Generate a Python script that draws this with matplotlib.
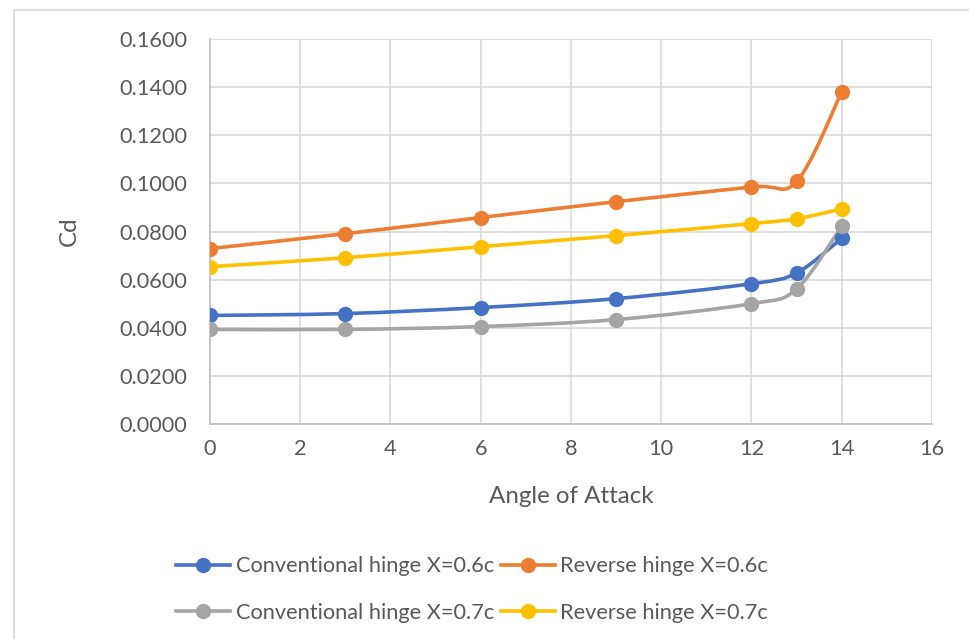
import numpy as np
import matplotlib
matplotlib.use('Agg')
from matplotlib import pyplot as plt
from matplotlib.path import Path
from matplotlib.patches import PathPatch, Rectangle
from matplotlib.lines import Line2D

plt.rcParams['font.family'] = ['Lato', 'DejaVu Sans']

angle = [0, 3, 6, 9, 12, 13, 14]
conv_06 = [0.0451, 0.0459, 0.0484, 0.0521, 0.0583, 0.0628, 0.0772]
rev_06 = [0.0729, 0.0791, 0.0858, 0.0924, 0.0985, 0.1008, 0.1380]
conv_07 = [0.0393, 0.0393, 0.0405, 0.0434, 0.0500, 0.0562, 0.0822]
rev_07 = [0.0654, 0.0691, 0.0737, 0.0783, 0.0833, 0.0853, 0.0894]

series = [
    ('Conventional hinge X=0.6c', conv_06, '#4472c4'),
    ('Reverse hinge X=0.6c', rev_06, '#ed7d31'),
    ('Conventional hinge X=0.7c', conv_07, '#a5a5a5'),
    ('Reverse hinge X=0.7c', rev_07, '#ffc000'),
]

text_col = '#595959'
grid_col = '#d9d9d9'


def smooth_path(x, y):
    # cubic bezier through the points, catmull-rom style control points
    p = np.column_stack([x, y]).astype(float)
    n = len(p)
    verts = [p[0]]
    codes = [Path.MOVETO]
    for i in range(n - 1):
        p0 = p[i - 1] if i > 0 else p[i]
        p3 = p[i + 2] if i + 2 < n else p[i + 1]
        c1 = p[i] + (p[i + 1] - p0) / 6.0
        c2 = p[i + 1] - (p3 - p[i]) / 6.0
        verts += [c1, c2, p[i + 1]]
        codes += [Path.CURVE4] * 3
    return Path(verts, codes)


fig = plt.figure(figsize=(9.7, 6.39), dpi=100)
fig.patches.append(Rectangle((14 / 970, -0.1), 1.2, 1 - 10 / 639 + 0.1,
                             transform=fig.transFigure, fill=False,
                             edgecolor=grid_col, lw=1.2))

ax = fig.add_axes([210 / 970, 1 - 424 / 639, 722 / 970, 385 / 639])

handles = []
for label, vals, col in series:
    ax.add_patch(PathPatch(smooth_path(angle, vals), fill=False,
                           edgecolor=col, lw=2.6, capstyle='round', zorder=3))
    ax.plot(angle, vals, ls='none', marker='o', ms=10, color=col, zorder=4)
    handles.append(Line2D([], [], color=col, lw=2.6, marker='o', ms=10, label=label))

ax.set_xlim(0, 16)
ax.set_ylim(0, 0.16)
ax.set_xticks(np.arange(0, 17, 2))
ax.set_yticks(np.arange(0, 0.161, 0.02))
ax.yaxis.set_major_formatter(matplotlib.ticker.FormatStrFormatter('%.4f'))
ax.grid(True, color=grid_col, lw=1.2)
ax.set_axisbelow(True)
ax.tick_params(length=0, labelsize=15.7, colors=text_col, pad=11)
ax.tick_params(axis='y', pad=16.5)
for s in ['top', 'right']:
    ax.spines[s].set_visible(False)
for s in ['left', 'bottom']:
    ax.spines[s].set_color('#bfbfbf')
    ax.spines[s].set_linewidth(1.2)

ax.set_xlabel('Angle of Attack', fontsize=17.4, color=text_col, labelpad=19)
ax.set_ylabel('Cd', fontsize=17.4, color=text_col, labelpad=28)

# legend fills column-wise, so reorder to read across rows
order = [0, 2, 1, 3]
fig.legend(handles=[handles[i] for i in order], ncol=2, loc='center',
           bbox_to_anchor=(472 / 970, 1 - 589.5 / 639),
           frameon=False, fontsize=15.7, labelcolor=text_col, handlelength=2.48,
           handletextpad=0.23, columnspacing=0.32, numpoints=1, labelspacing=1.2)

fig.savefig('out.png', dpi=100)
